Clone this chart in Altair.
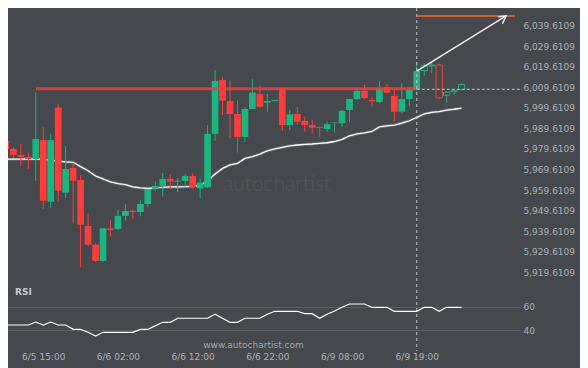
import altair as alt
import pandas as pd

# ---------------- data ----------------
opens = [5984.4, 5980.6, 5977.6, 5976.7, 5975.7, 5984.9, 5954.9, 6000.7, 5959.3, 5971.3,
         5965.5, 5943.1, 5934.0, 5926.1, 5941.9, 5941.6, 5948.0, 5950.5, 5949.9, 5953.8,
         5961.2, 5962.6, 5966.0, 5964.7, 5965.0, 5967.4, 5961.4, 5961.9, 5987.9, 6014.1,
         6003.9, 5997.6, 5986.4, 6000.0, 6007.3, 6003.1, 6003.9, 6010.1, 5992.2, 5997.6,
         5994.2, 5992.2, 5991.3, 5990.3, 5993.1, 5993.1, 5999.5, 6004.9, 6008.8, 6004.4,
         6003.4, 6010.7, 6006.4, 5998.7, 6004.9, 6009.3, 6018.7, 6021.0, 6021.4, 6006.7,
         6008.4, 6009.4]
highs = [5984.9, 5981.5, 5983.0, 5978.8, 6008.0, 5991.3, 5987.9, 6002.3, 5982.0, 5973.6,
         5967.9, 5949.3, 5934.7, 5942.1, 5946.0, 5951.2, 5953.7, 5951.2, 5955.6, 5961.2,
         5964.7, 5968.9, 5968.4, 5966.3, 5968.5, 5968.7, 5966.3, 5992.1, 6019.0, 6015.5,
         6013.8, 6004.3, 6001.0, 6014.6, 6011.4, 6007.2, 6004.5, 6010.4, 5999.5, 6001.1,
         5996.3, 5994.7, 5991.5, 5993.8, 5993.7, 5999.5, 6005.0, 6010.1, 6011.7, 6006.0,
         6013.7, 6012.2, 6009.3, 6012.5, 6010.9, 6022.9, 6022.3, 6022.9, 6022.3, 6008.3,
         6009.0, 6012.5]
lows = [5980.1, 5976.2, 5972.4, 5970.8, 5965.1, 5951.4, 5952.0, 5954.9, 5956.6, 5944.4,
        5923.0, 5933.0, 5925.6, 5925.6, 5937.9, 5941.1, 5945.7, 5946.6, 5947.8, 5952.2,
        5960.0, 5957.4, 5961.4, 5959.5, 5962.2, 5961.0, 5956.6, 5961.6, 5984.6, 5997.1,
        5985.8, 5978.8, 5984.1, 5999.8, 6000.5, 5998.7, 6003.8, 5989.3, 5989.8, 5992.1,
        5989.0, 5987.9, 5986.5, 5989.0, 5988.7, 5991.3, 5993.8, 6004.4, 6004.9, 6001.1,
        6002.9, 6007.8, 5994.3, 5997.9, 6001.5, 6009.2, 6016.1, 6017.4, 6004.7, 6003.1,
        6006.8, 6009.4]
closes = [5980.6, 5977.6, 5976.7, 5975.7, 5985.4, 5955.3, 5984.9, 5960.3, 5970.8, 5965.1,
          5943.7, 5934.0, 5926.1, 5942.0, 5941.1, 5948.0, 5950.4, 5949.9, 5953.8, 5961.1,
          5962.6, 5966.0, 5964.7, 5965.1, 5967.4, 5962.1, 5964.2, 5987.9, 6013.7, 6004.1,
          5997.6, 5986.4, 6000.0, 6008.0, 6001.1, 6003.9, 6004.4, 5992.2, 5997.4, 5993.8,
          5992.2, 5990.9, 5990.8, 5992.7, 5993.4, 5999.1, 6004.9, 6008.8, 6005.4, 6003.8,
          6010.2, 6008.0, 5998.7, 6004.9, 6009.3, 6018.5, 6021.0, 6021.4, 6005.5, 6008.2,
          6008.9, 6011.9]
hollow = [0] * 56 + [1] * 6
ma = [5975.6, 5975.6, 5975.6, 5975.7, 5975.8, 5975.5, 5975.1, 5974.6, 5974.3, 5974.1,
      5972.0, 5970.0, 5967.4, 5966.0, 5964.5, 5963.7, 5963.2, 5962.1, 5961.6, 5961.4,
      5961.6, 5961.9, 5962.1, 5962.1, 5962.2, 5962.4, 5962.8, 5965.0, 5968.4, 5971.1,
      5972.8, 5973.5, 5976.0, 5976.8, 5978.1, 5979.7, 5980.6, 5981.4, 5982.1, 5982.5,
      5982.8, 5983.0, 5983.3, 5983.6, 5984.2, 5985.2, 5986.9, 5987.9, 5988.4, 5989.1,
      5991.3, 5991.8, 5992.2, 5993.1, 5994.3, 5995.9, 5997.6, 5998.4, 5998.7, 5999.5,
      5999.9, 6000.4]
rsi = [44.5, 44.5, 44.5, 44.5, 47.0, 44.5, 47.0, 44.5, 44.5, 40.8,
       40.8, 38.3, 35.2, 38.3, 38.3, 38.3, 38.3, 38.3, 40.8, 40.8,
       43.9, 46.8, 46.8, 50.2, 50.2, 50.2, 50.2, 50.2, 53.6, 50.2,
       46.8, 46.8, 50.2, 50.2, 50.2, 53.6, 56.1, 56.1, 56.1, 56.1,
       54.1, 54.1, 50.2, 53.6, 56.3, 59.5, 62.3, 62.3, 62.3, 59.5,
       59.5, 59.5, 56.1, 56.1, 56.1, 56.1, 59.5, 59.5, 56.1, 59.5,
       59.5, 59.5]

time_label_idx = [5, 15, 25, 35, 45, 55]
time_labels = ["6/5 15:00", "6/6 02:00", "6/6 12:00", "6/6 22:00", "6/9 08:00", "6/9 19:00"]
price_ticks = [5919.6109, 5929.6109, 5939.6109, 5949.6109, 5959.6109, 5969.6109, 5979.6109,
               5989.6109, 5999.6109, 6009.6109, 6019.6109, 6029.6109, 6039.6109, 6049.6109]
rsi_ticks = [40, 60]

resistance_level = 6009.9
resistance_span = [4, 55]
current_price = 6009.6109
signal_idx = 55
arrow_idx = [55, 66.95]
arrow_price = [6018.5, 6045.3]
head_idx = [65.92, 66.95, 66.45]
head_price = [6044.9, 6045.3, 6041.4]
target_price = 6045.3
target_span = [55, 68.15]

# ---------------- styling ----------------
BG = "#45484d"
GREEN = "#1bb57f"
RED = "#fd3c3c"
LABEL = "#aeb1b6"
FONT = "DejaVu Sans"

W, H = 512, 344
X = alt.Scale(domain=[0.281, 68.82], nice=False, zero=False)
PY = alt.Scale(domain=[5916.81, 6049.17], range=[272, 0], nice=False, zero=False)
RY = alt.Scale(domain=[30, 70], range=[334.1, 286.9], nice=False, zero=False)

label_expr = " : ".join(
    [f"datum.value == {v} ? '{t}'" for v, t in zip(time_label_idx, time_labels)]) + " : ''"
X_AXIS = alt.Axis(
    values=time_label_idx, labelExpr=label_expr, grid=False, ticks=False, domain=False,
    labelFont=FONT, labelFontSize=9, labelColor=LABEL, labelPadding=4.7,
    labelBaseline="middle", labelOverlap=False, title=None)

n = len(opens)
df = pd.DataFrame({
    "i": list(range(n)), "open": opens, "high": highs, "low": lows, "close": closes,
    "hollow": hollow, "ma": ma, "rsi": rsi,
})
df["dir"] = ["up" if c >= o else "down" for o, c in zip(opens, closes)]

color = alt.Color("dir:N", scale=alt.Scale(domain=["up", "down"], range=[GREEN, RED]), legend=None)


def px(field="i"):
    return alt.X(f"{field}:Q", scale=X, axis=X_AXIS)


def py(field):
    return alt.Y(f"{field}:Q", scale=PY, axis=None)


base = alt.Chart(df)

# big watermark
wm = alt.Chart(pd.DataFrame({"t": ["autochartist"]})).mark_text(
    font="Lato", fontSize=21, fontWeight=300, color="#535659", align="center", baseline="middle"
).encode(x=alt.value(269), y=alt.value(177), text="t:N")

# moving average (glow + line)
ma_glow = base.mark_line(color="#9a9da1", strokeWidth=3, opacity=0.35, clip=True).encode(x=px(), y=py("ma"))
ma_line = base.mark_line(color="#ffffff", strokeWidth=1.3, clip=True).encode(x=px(), y=py("ma"))

# candles
wicks = base.mark_rule(strokeWidth=1, clip=True).encode(
    x=px(),
    y=alt.Y("low:Q", scale=PY, axis=alt.Axis(
        orient="right", values=price_ticks, format=",.4f", labelFont=FONT, labelFontSize=9,
        labelColor=LABEL, labelPadding=3, labelOffset=-2, ticks=False, domain=False, grid=False,
        labelOverlap=False, labelAlign="left", labelBaseline="middle", title=None)),
    y2="high:Q",
    color=color,
)
bodies = base.transform_filter("datum.hollow == 0").transform_calculate(
    x0="datum.i - 0.45", x1="datum.i + 0.45"
).mark_bar(clip=True).encode(
    x=px("x0"), x2="x1:Q", y=py("open"), y2="close:Q", color=color,
)
hollow_bodies = base.transform_filter("datum.hollow == 1").transform_calculate(
    x0="datum.i - 0.42", x1="datum.i + 0.42"
).mark_bar(clip=True, fill=BG, strokeWidth=1).encode(
    x=px("x0"), x2="x1:Q", y=py("open"), y2="close:Q", stroke=color,
)

# resistance line
res_df = pd.DataFrame({"a": [resistance_span[0]], "b": [resistance_span[1]], "p": [resistance_level]})
resistance = alt.Chart(res_df).mark_rule(color="#e2443f", strokeWidth=3, opacity=0.85).encode(
    x=px("a"), x2="b:Q", y=py("p"))

# signal vertical dashed line and current price line
sig_df = pd.DataFrame({"s": [signal_idx], "p": [current_price]})
vline = alt.Chart(sig_df).mark_rule(color="#c4c6c9", strokeWidth=1, strokeDash=[3, 3]).encode(
    x=px("s"), y=alt.value(0), y2=alt.value(H - 1))
hline = alt.Chart(sig_df).mark_rule(color="#c4c6c9", strokeWidth=1, strokeDash=[3, 2]).encode(
    x=px("s"), x2=alt.value(W + 2), y=py("p"))

# target (orange) line
tgt_df = pd.DataFrame({"a": [target_span[0]], "b": [target_span[1]], "p": [target_price]})
target = alt.Chart(tgt_df).mark_rule(color="#f26a2e", strokeWidth=1.5).encode(
    x=px("a"), x2="b:Q", y=py("p"))

# arrow
arr_df = pd.DataFrame({"i": arrow_idx, "p": arrow_price, "o": [0, 1]})
arrow = alt.Chart(arr_df).mark_line(color="#eeeeee", strokeWidth=1.5).encode(
    x=px("i"), y=py("p"), order="o:Q")
head_df = pd.DataFrame({"i": head_idx, "p": head_price, "o": [0, 1, 2]})
head = alt.Chart(head_df).mark_line(color="#eeeeee", strokeWidth=1.5).encode(
    x=px("i"), y=py("p"), order="o:Q")

# RSI panel
rsi_line = base.mark_line(color="#ffffff", strokeWidth=1.2).encode(
    x=px(),
    y=alt.Y("rsi:Q", scale=RY, axis=alt.Axis(
        orient="right", values=rsi_ticks, grid=True, gridColor="#5b5f64", gridWidth=1,
        labelFont=FONT, labelFontSize=9, labelColor=LABEL, labelPadding=3, ticks=False,
        domain=False, labelAlign="left", labelBaseline="middle", title=None)),
)
rsi_title = alt.Chart(pd.DataFrame({"t": ["RSI"]})).mark_text(
    font=FONT, fontSize=9, fontWeight="bold", color="#c6c8cb", align="left", baseline="middle"
).encode(x=alt.value(7), y=alt.value(283.7), text="t:N")
site = alt.Chart(pd.DataFrame({"t": ["www.autochartist.com"]})).mark_text(
    font=FONT, fontSize=9, color="#a2a5aa", align="center", baseline="middle"
).encode(x=alt.value(245.5), y=alt.value(336.7), text="t:N")

chart = alt.layer(
    wm, ma_glow, ma_line, wicks, bodies, hollow_bodies, resistance, vline, hline,
    target, arrow, head, rsi_line, rsi_title, site,
).resolve_scale(y="independent").properties(
    width=W, height=H,
    autosize=alt.AutoSizeParams(type="none"),
    padding={"left": 0, "top": 0, "right": 60, "bottom": 16},
    background=BG,
).configure_view(stroke=None)

chart.save("out.html", embed_options={"renderer": "svg", "actions": False})
